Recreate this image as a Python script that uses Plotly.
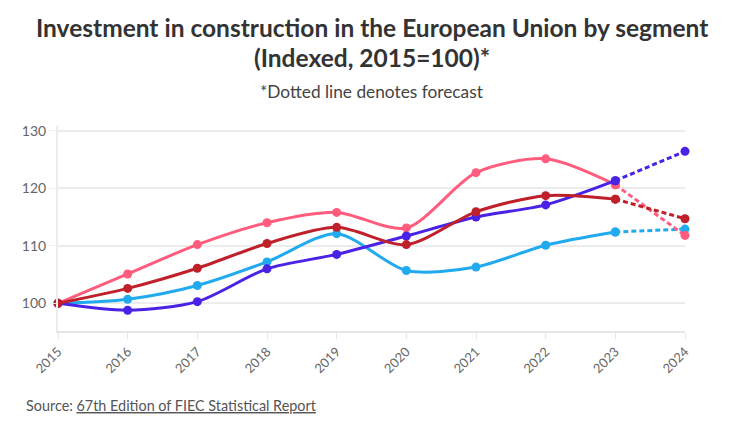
import plotly.graph_objects as go

years = [2015, 2016, 2017, 2018, 2019, 2020, 2021, 2022, 2023, 2024]
year_labels = [str(y) for y in years]
forecast_from = 2023

pink_vals = [100, 105.1, 110.2, 114.0, 115.8, 113.1, 122.7, 125.1, 120.6, 111.8]
red_vals = [100, 102.6, 106.1, 110.4, 113.2, 110.2, 115.9, 118.7, 118.1, 114.7]
blue_vals = [100, 100.7, 103.1, 107.2, 112.1, 105.7, 106.3, 110.1, 112.4, 112.9]
purple_vals = [100, 98.8, 100.3, 106.0, 108.5, 111.7, 115.0, 117.1, 121.3, 126.4]

y_ticks = [100, 110, 120, 130]

series = [
    ("Segment A", blue_vals, "#22aaee"),
    ("Segment B", pink_vals, "#ff5c7e"),
    ("Segment C", purple_vals, "#4a22e6"),
    ("Segment D", red_vals, "#c0202a"),
]

FONT = "Lato"
fig = go.Figure()
idx = years.index(forecast_from)
for name, vals, col in series:
    fig.add_trace(go.Scatter(
        x=years[:idx + 1], y=vals[:idx + 1], mode="lines+markers", name=name,
        line=dict(color=col, width=3, shape="spline", smoothing=0.8),
        marker=dict(size=9, color=col), cliponaxis=False, showlegend=False))
    fig.add_trace(go.Scatter(
        x=years[idx:], y=vals[idx:], mode="lines+markers", name=name + " (forecast)",
        line=dict(color=col, width=3, dash="5px,3px"),
        marker=dict(size=9, color=col), cliponaxis=False, showlegend=False))

fig.update_layout(
    width=740, height=428,
    margin=dict(l=58, r=55, t=126, b=97),
    paper_bgcolor="white", plot_bgcolor="white",
    font=dict(family=FONT, color="#555"),
    xaxis=dict(range=[2015, 2024], tickvals=years, ticktext=year_labels,
               tickangle=-45, showgrid=False, showline=True, linecolor="#e6e6e6",
               linewidth=2, ticks="outside", tickcolor="#e6e6e6", ticklen=6,
               tickfont=dict(size=13, color="#666"), zeroline=False),
    yaxis=dict(range=[95.2, 130.8], tickvals=y_ticks, showgrid=True,
               gridcolor="#ececec", gridwidth=2, showline=True, linecolor="#ececec",
               linewidth=2, ticks="outside", tickcolor="#ececec", ticklen=7,
               tickfont=dict(size=14, color="#666"), zeroline=False),
    annotations=[
        dict(text="<b>Investment in construction in the European Union by segment</b>",
             x=0.5, y=27, xref="paper", yref="paper", showarrow=False,
             font=dict(size=24.5, color="#333", family=FONT)),
        dict(text="<b>(Indexed, 2015=100)*</b>",
             x=0.5, y=58, xref="paper", yref="paper", showarrow=False,
             font=dict(size=24.5, color="#333", family=FONT)),
        dict(text="*Dotted line denotes forecast",
             x=0.5, y=91, xref="paper", yref="paper", showarrow=False,
             font=dict(size=17.3, color="#444", family=FONT)),
        dict(text="Source: <u>67th Edition of FIEC Statistical Report</u>",
             x=24, y=405, xref="paper", yref="paper", showarrow=False, xanchor="left",
             font=dict(size=14.4, color="#555", family=FONT)),
    ],
)

# convert pixel positions for annotations to paper coords
pw = 740 - 58 - 55
ph = 428 - 126 - 97
for a in fig.layout.annotations:
    px_y = a.y
    if a.xanchor == "left":
        a.x = (a.x - 58) / pw
    a.y = (428 - 97 - px_y) / ph
    a.yanchor = "middle"

fig.write_html("out.html", config={"displayModeBar": False},
               post_script="document.body.style.margin='0';document.body.style.padding='0';")
